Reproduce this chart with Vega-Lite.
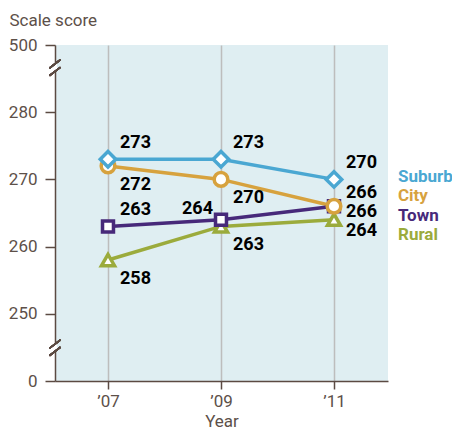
{
  "$schema": "https://vega.github.io/schema/vega-lite/v6.json",
  "width": 333,
  "height": 336,
  "autosize": {"type": "none"},
  "padding": {"left": 55, "top": 45, "right": 64, "bottom": 50},
  "background": "white",
  "config": {
    "view": {"fill": "#dfeef2", "stroke": null},
    "font": "Roboto",
    "axis": {"labelFont": "Roboto", "titleFont": "Roboto"},
    "legend": {"labelFont": "Roboto"},
    "text": {"font": "Roboto"}
  },
  "data": {
    "values": [
      {"series": "Suburb", "year": 2007, "score": 273},
      {"series": "Suburb", "year": 2009, "score": 273},
      {"series": "Suburb", "year": 2011, "score": 270},
      {"series": "City", "year": 2007, "score": 272},
      {"series": "City", "year": 2009, "score": 270},
      {"series": "City", "year": 2011, "score": 266},
      {"series": "Town", "year": 2007, "score": 263},
      {"series": "Town", "year": 2009, "score": 264},
      {"series": "Town", "year": 2011, "score": 266},
      {"series": "Rural", "year": 2007, "score": 258},
      {"series": "Rural", "year": 2009, "score": 263},
      {"series": "Rural", "year": 2011, "score": 264}
    ]
  },
  "encoding": {
    "x": {
      "field": "year", "type": "quantitative",
      "scale": {"domain": [2006.062, 2011.956], "nice": false, "zero": false},
      "axis": {
        "values": [2007, 2009, 2011],
        "labelExpr": "'’' + substring(toString(datum.value), 2)",
        "title": "Year",
        "grid": true, "gridColor": "#bdbdbd", "gridWidth": 1.5,
        "domainColor": "#5b4a42", "domainWidth": 1.5,
        "tickColor": "#5b4a42", "tickWidth": 1.5, "tickSize": 8,
        "labelColor": "#5d5049", "labelFontSize": 17, "labelPadding": 4,
        "titleColor": "#5d5049", "titleFontSize": 17, "titleFontWeight": "normal", "titlePadding": 4
      }
    },
    "y": {
      "field": "score", "type": "quantitative",
      "scale": {"domain": [240, 290], "nice": false, "zero": false},
      "axis": {
        "values": [240, 250, 260, 270, 280, 290],
        "labelExpr": "datum.value == 240 ? '0' : datum.value == 290 ? '500' : datum.label",
        "title": "Scale score",
        "titleAngle": 0, "titleAlign": "left", "titleBaseline": "alphabetic",
        "titleX": -46, "titleY": -20,
        "grid": false,
        "domainColor": "#5b4a42", "domainWidth": 1.5,
        "tickColor": "#5b4a42", "tickWidth": 1.5, "tickSize": 10,
        "labelColor": "#5d5049", "labelFontSize": 17, "labelPadding": 8,
        "titleColor": "#5d5049", "titleFontSize": 17, "titleFontWeight": "normal"
      }
    },
    "color": {
      "field": "series", "type": "nominal",
      "scale": {"domain": ["Suburb", "City", "Town", "Rural"], "range": ["#4aa7d2", "#d7a23e", "#47297a", "#9bab3c"]},
      "legend": {
        "orient": "none", "legendX": 326, "legendY": 123,
        "title": null, "padding": 0,
        "symbolSize": 0, "symbolOpacity": 0, "symbolStrokeWidth": 0,
        "labelOffset": 0, "rowPadding": 1.5,
        "labelFontSize": 17, "labelFontWeight": "bold",
        "encode": {"labels": {"update": {"fill": {"scale": "color", "field": "value"}}}}
      }
    }
  },
  "layer": [
    {"mark": {"type": "line", "strokeWidth": 3.5}},
    {
      "transform": [{"filter": "datum.series == 'Rural'"}],
      "mark": {"type": "point", "shape": "triangle-up", "filled": true, "fill": "white", "strokeWidth": 3.5, "opacity": 1, "size": 170},
      "encoding": {"stroke": {"value": "#9bab3c"}}
    },
    {
      "transform": [{"filter": "datum.series == 'Town'"}],
      "mark": {"type": "point", "shape": "square", "filled": true, "fill": "white", "strokeWidth": 3.5, "opacity": 1, "size": 120},
      "encoding": {"stroke": {"value": "#47297a"}}
    },
    {
      "transform": [{"filter": "datum.series == 'City'"}],
      "mark": {"type": "point", "shape": "circle", "filled": true, "fill": "white", "strokeWidth": 3.5, "opacity": 1, "size": 185},
      "encoding": {"stroke": {"value": "#d7a23e"}}
    },
    {
      "transform": [{"filter": "datum.series == 'Suburb'"}],
      "mark": {"type": "point", "shape": "diamond", "filled": true, "fill": "white", "strokeWidth": 3.5, "opacity": 1, "size": 240},
      "encoding": {"stroke": {"value": "#4aa7d2"}}
    },
    {
      "transform": [{"filter": "datum.series == 'Suburb' || (datum.series == 'Town' && datum.year == 2007)"}],
      "mark": {"type": "text", "align": "left", "baseline": "middle", "dx": 12, "dy": -16, "fontSize": 18, "fontWeight": "bold"},
      "encoding": {"text": {"field": "score"}, "color": {"value": "black"}}
    },
    {
      "transform": [{"filter": "(datum.series == 'City' || datum.series == 'Rural') && datum.year < 2011"}],
      "mark": {"type": "text", "align": "left", "baseline": "middle", "dx": 12, "dy": 19, "fontSize": 18, "fontWeight": "bold"},
      "encoding": {"text": {"field": "score"}, "color": {"value": "black"}}
    },
    {
      "transform": [{"filter": "datum.series == 'Town' && datum.year == 2009"}],
      "mark": {"type": "text", "align": "right", "baseline": "middle", "dx": -8, "dy": -11, "fontSize": 18, "fontWeight": "bold"},
      "encoding": {"text": {"field": "score"}, "color": {"value": "black"}}
    },
    {
      "transform": [{"filter": "datum.series == 'City' && datum.year == 2011"}],
      "mark": {"type": "text", "align": "left", "baseline": "middle", "dx": 12, "dy": -13, "fontSize": 18, "fontWeight": "bold"},
      "encoding": {"text": {"field": "score"}, "color": {"value": "black"}}
    },
    {
      "transform": [{"filter": "datum.series == 'Town' && datum.year == 2011"}],
      "mark": {"type": "text", "align": "left", "baseline": "middle", "dx": 12, "dy": 6, "fontSize": 18, "fontWeight": "bold"},
      "encoding": {"text": {"field": "score"}, "color": {"value": "black"}}
    },
    {
      "transform": [{"filter": "datum.series == 'Rural' && datum.year == 2011"}],
      "mark": {"type": "text", "align": "left", "baseline": "middle", "dx": 12, "dy": 11, "fontSize": 18, "fontWeight": "bold"},
      "encoding": {"text": {"field": "score"}, "color": {"value": "black"}}
    },
    {
      "mark": {"type": "rule", "color": "white", "strokeWidth": 3},
      "encoding": {"x": {"datum": 2006.062, "type": "quantitative"}, "y": {"datum": 287.2, "type": "quantitative"}, "y2": {"datum": 286.06}, "color": {"value": "white"}}
    },
    {
      "mark": {"type": "rule", "color": "white", "strokeWidth": 3},
      "encoding": {"x": {"datum": 2006.062, "type": "quantitative"}, "y": {"datum": 245.5, "type": "quantitative"}, "y2": {"datum": 244.4}, "color": {"value": "white"}}
    },
    {
      "mark": {"type": "rule", "strokeWidth": 1.5},
      "encoding": {"x": {"datum": 2005.965, "type": "quantitative"}, "x2": {"datum": 2006.159}, "y": {"datum": 286.57, "type": "quantitative"}, "y2": {"datum": 287.83}, "color": {"value": "#5b4a42"}}
    },
    {
      "mark": {"type": "rule", "strokeWidth": 1.5},
      "encoding": {"x": {"datum": 2005.965, "type": "quantitative"}, "x2": {"datum": 2006.159}, "y": {"datum": 285.43, "type": "quantitative"}, "y2": {"datum": 286.69}, "color": {"value": "#5b4a42"}}
    },
    {
      "mark": {"type": "rule", "strokeWidth": 1.5},
      "encoding": {"x": {"datum": 2005.965, "type": "quantitative"}, "x2": {"datum": 2006.159}, "y": {"datum": 244.87, "type": "quantitative"}, "y2": {"datum": 246.13}, "color": {"value": "#5b4a42"}}
    },
    {
      "mark": {"type": "rule", "strokeWidth": 1.5},
      "encoding": {"x": {"datum": 2005.965, "type": "quantitative"}, "x2": {"datum": 2006.159}, "y": {"datum": 243.77, "type": "quantitative"}, "y2": {"datum": 245.03}, "color": {"value": "#5b4a42"}}
    }
  ]
}
